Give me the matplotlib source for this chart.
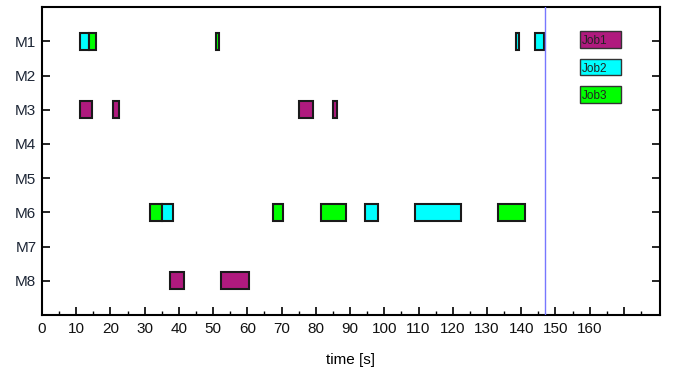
import matplotlib.pyplot as plt
from matplotlib.ticker import FixedLocator

plt.rcParams['font.family'] = ['Liberation Sans', 'DejaVu Sans']

machines = ["M1", "M2", "M3", "M4", "M5", "M6", "M7", "M8"]
jobs = ["Job1", "Job2", "Job3"]
job_colors = ["#B01A7E", "#00FFFF", "#00FF00"]

# (machine index 1..8, job index, start, end)
ops_machine = [1, 1, 1, 1, 1, 3, 3, 3, 3, 6, 6, 6, 6, 6, 6, 6, 8, 8]
ops_job = [1, 2, 2, 1, 1, 0, 0, 0, 0, 2, 1, 2, 2, 1, 1, 2, 0, 0]
ops_start = [11.1, 13.6, 50.8, 138.5, 144.0, 11.1, 20.8, 75.2, 85.1,
             31.5, 35.0, 67.4, 81.4, 94.4, 108.9, 133.2, 37.4, 52.2]
ops_end = [13.6, 15.8, 51.6, 139.5, 146.8, 14.7, 22.5, 79.3, 86.1,
           35.0, 38.2, 70.4, 88.7, 98.3, 122.5, 141.0, 41.5, 60.5]

current_time = 147
x_labels = [0, 10, 20, 30, 40, 50, 60, 70, 80, 90, 100, 110, 120, 130, 140, 150, 160]

fig = plt.figure(figsize=(6.73, 3.74), dpi=100)
ax = fig.add_axes([0.0624, 0.158, 0.918, 0.823])

for m, j, s, e in zip(ops_machine, ops_job, ops_start, ops_end):
    ax.barh(m, e - s, left=s, height=0.5, color=job_colors[j],
            edgecolor="#1a1a1a", linewidth=1.5, zorder=3)

ax.axvline(current_time, color="#7777ff", linewidth=1, zorder=4)

# legend boxes drawn inside the plot
for k, (name, col) in enumerate(zip(jobs, job_colors)):
    yc = 0.95 + 0.8 * k
    ax.barh(yc, 12.2, left=157.1, height=0.49, color=col,
            edgecolor="#333333", linewidth=1.0, zorder=3)
    ax.text(157.6, yc + 0.05, name, fontsize=8.5, va="center", ha="left",
            color="#222222", zorder=5)

ax.set_xlim(0, 180.5)
ax.set_ylim(9, 0)
ax.set_yticks(range(1, 9))
ax.set_yticklabels(machines, fontsize=11, color="#1c2535")
major = list(range(0, 171, 10))
ax.set_xticks(major)
ax.set_xticklabels([str(v) if v in x_labels else "" for v in major],
                   fontsize=11, color="#111111")
ax.xaxis.set_minor_locator(FixedLocator(list(range(5, 180, 10))))
ax.tick_params(axis="both", which="major", direction="in", length=6, width=1.2,
               right=True)
ax.tick_params(axis="both", which="minor", direction="in", length=3, width=1)
ax.tick_params(axis="y", pad=4)
ax.tick_params(axis="x", pad=5)
for sp in ax.spines.values():
    sp.set_linewidth(1.5)
ax.set_xlabel("time [s]", fontsize=11, labelpad=12)

fig.savefig("out.png", dpi=100)
